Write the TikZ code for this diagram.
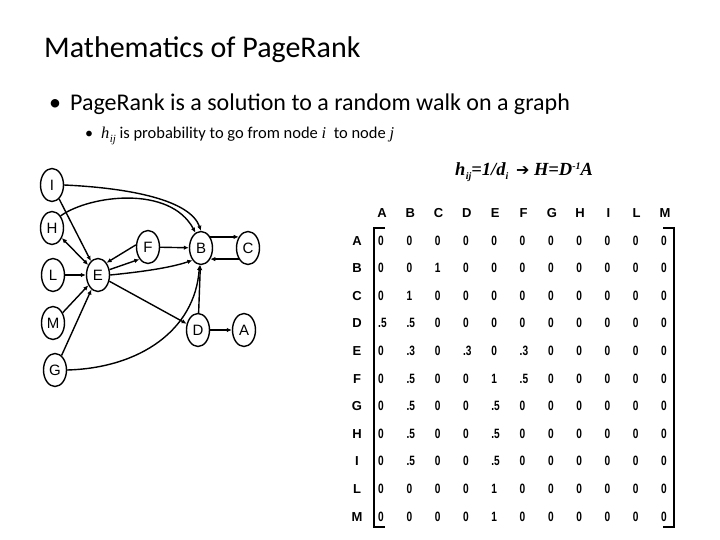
\documentclass[tikz,border=0pt]{standalone}
\usepackage{fontspec}
\setmainfont{Carlito}
\newfontfamily\arialf{Liberation Sans}
\newfontfamily\tnrf{Liberation Serif}
\newfontfamily\dejavuf{DejaVu Sans}
\usetikzlibrary{shapes.geometric,arrows.meta}
\tikzset{
  gnode/.style={draw,ellipse,line width=1.4pt,minimum width=23pt,minimum height=33pt,inner sep=0pt,font=\arialf\fontsize{15}{15}\selectfont},
  arr/.style={line width=1.4pt,-{Latex[length=5pt,width=4.5pt]}},
  darr/.style={line width=1.4pt,{Latex[length=5pt,width=4.5pt]}-{Latex[length=5pt,width=4.5pt]}},
  hdr/.style={anchor=base,inner sep=0pt,font=\arialf\bfseries\fontsize{13}{13}\selectfont},
  ent/.style={anchor=base west,inner sep=0pt,font=\arialf\bfseries\fontsize{13.5}{13.5}\selectfont},
  brk/.style={line width=1.8pt},
  txt/.style={anchor=base west,inner sep=0pt}
}
\begin{document}
\begin{tikzpicture}[x=1pt,y=-1pt]
\useasboundingbox (0,0) rectangle (720,540);
% titles
\node[txt,font=\fontsize{30}{30}\selectfont] (title) at (44,58) {Mathematics of PageRank};
\node[txt,font=\fontsize{24}{24}\selectfont] (b1dot) at (49,111) {\textbullet};
\node[txt,font=\fontsize{24}{24}\selectfont] (b1) at (70,111) {PageRank is a solution to a random walk on a graph};
\node[txt,font=\fontsize{16}{16}\selectfont] (b2dot) at (85,139) {\textbullet};
\node[txt,font=\fontsize{16.5}{16.5}\selectfont] (b2) at (101,139) {{\tnrf\itshape h\kern0.3pt\raisebox{-3.5pt}{\fontsize{11}{11}\selectfont ij}} is probability to go from node {\tnrf\itshape i} \ to node {\tnrf\itshape j}};
\node[txt,font=\tnrf\bfseries\itshape\fontsize{18.5}{18.5}\selectfont] (formula) at (455,176) {h\kern0.3pt\raisebox{-3.5pt}{\fontsize{10}{10}\selectfont ij}=1/d\raisebox{-3.5pt}{\fontsize{10}{10}\selectfont i} \,{\dejavuf\upshape\bfseries\fontsize{16}{16}\selectfont ➔} H=D\raisebox{6.5pt}{\fontsize{10}{10}\selectfont -1}A};
% graph nodes
\node[gnode] (I) at (52,185) {I};
\node[gnode] (H) at (52,228) {H};
\node[gnode] (L) at (53,275) {L};
\node[gnode] (M) at (53,323) {M};
\node[gnode] (G) at (55,370) {G};
\node[gnode] (E) at (98,275) {E};
\node[gnode] (F) at (148,247) {F};
\node[gnode] (B) at (201,248) {B};
\node[gnode] (C) at (248,248) {C};
\node[gnode] (D) at (198,330) {D};
\node[gnode] (A) at (244,330) {A};
% edges
\draw[arr] (I) -- (E);
\draw[arr] (I.east) .. controls (130,188) and (190,200) .. (B.north);
\draw[arr] (H.north east) .. controls (90,195) and (170,185) .. (B.110);
\draw[darr] (H) -- (E);
\draw[arr] (L) -- (E);
\draw[arr] (M) -- (E);
\draw[arr] (G) -- (E);
\draw[arr] (G.east) .. controls (140,368) and (195,330) .. (B.265);
\draw[arr] (E.east) .. controls (140,272) and (170,268) .. (B.235);
\draw[arr] (E) -- (D);
\draw[arr] (E.25) -- (F.235);
\draw[arr] (F.170) -- (E.55);
\draw[arr] (F) -- (B);
\draw[arr] (B.50) -- (C.130);
\draw[arr] (C.230) -- (B.310);
\draw[arr] (D) -- (B);
\draw[arr] (D) -- (A);
% matrix headers
\foreach \c [count=\k] in {A,B,C,D,E,F,G,H,I,L,M} {
  \node[hdr] (col\c) at ({382+(\k-1)*28.3},218) {\c};
}
\foreach \r/\vals [count=\n] in {
  A/{0,0,0,0,0,0,0,0,0,0,0},
  B/{0,0,1,0,0,0,0,0,0,0,0},
  C/{0,1,0,0,0,0,0,0,0,0,0},
  D/{.5,.5,0,0,0,0,0,0,0,0,0},
  E/{0,.3,0,.3,0,.3,0,0,0,0,0},
  F/{0,.5,0,0,1,.5,0,0,0,0,0},
  G/{0,.5,0,0,.5,0,0,0,0,0,0},
  H/{0,.5,0,0,.5,0,0,0,0,0,0},
  I/{0,.5,0,0,.5,0,0,0,0,0,0},
  L/{0,0,0,0,1,0,0,0,0,0,0},
  M/{0,0,0,0,1,0,0,0,0,0,0}} {
  \node[hdr] (row\r) at (357,{245+(\n-1)*27.6}) {\r};
  \foreach \v [count=\k] in \vals {
    \node[ent] (m\r\k) at ({378+(\k-1)*28.3},{245+(\n-1)*27.6}) {\scalebox{0.75}[1]{\v}};
  }
}
% brackets
\coordinate (lt) at (374,228);
\coordinate (lb) at (374,527);
\coordinate (rt) at (674,228);
\coordinate (rb) at (674,527);
\draw[brk] ([xshift=11pt]lt) -- (lt) -- (lb) -- ([xshift=11pt]lb);
\draw[brk] ([xshift=-11pt]rt) -- (rt) -- (rb) -- ([xshift=-11pt]rb);
\end{tikzpicture}
\end{document}
